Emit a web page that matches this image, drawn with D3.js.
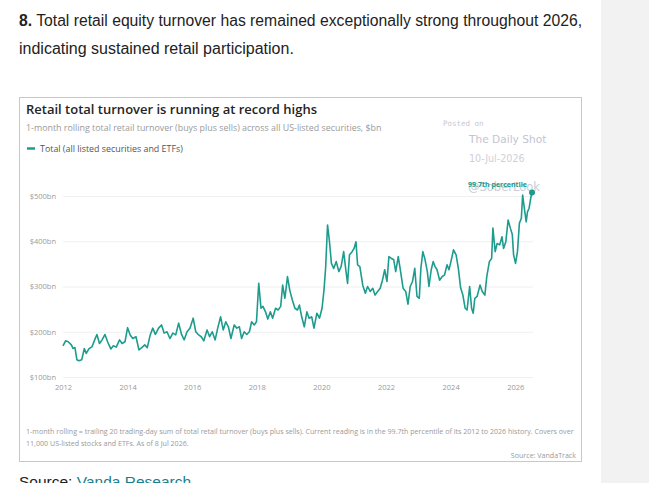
<!DOCTYPE html>
<html lang="en">
<head>
<meta charset="UTF-8">
<title>Retail total turnover</title>
<script src="https://d3js.org/d3.v7.min.js"></script>
<style>
    body { margin: 0; background: #fff; }
    svg { display: block; }
</style>
</head>
<body>
<svg id="chart" width="649" height="483"></svg>
<script>
// dates as decimal years, values in $bn
const dates = [
    2012.00, 2012.08, 2012.16, 2012.26, 2012.31, 2012.37, 2012.43, 2012.49, 2012.58, 2012.66,
    2012.72, 2012.80, 2012.90, 2012.98, 2013.05, 2013.13, 2013.21, 2013.30, 2013.38, 2013.48,
    2013.56, 2013.65, 2013.75, 2013.83, 2013.92, 2014.00, 2014.08, 2014.16, 2014.26, 2014.35,
    2014.44, 2014.53, 2014.61, 2014.70, 2014.78, 2014.86, 2014.96, 2015.05, 2015.13, 2015.22,
    2015.31, 2015.40, 2015.49, 2015.58, 2015.67, 2015.75, 2015.84, 2015.93, 2016.03, 2016.11,
    2016.20, 2016.28, 2016.36, 2016.46, 2016.54, 2016.62, 2016.71, 2016.79, 2016.88, 2016.96,
    2017.04, 2017.12, 2017.20, 2017.30, 2017.38, 2017.46, 2017.53, 2017.61, 2017.69, 2017.77,
    2017.84, 2017.92, 2017.99, 2018.06, 2018.13, 2018.19, 2018.27, 2018.34, 2018.42, 2018.49,
    2018.58, 2018.66, 2018.74, 2018.80, 2018.87, 2018.95, 2019.02, 2019.10, 2019.18, 2019.26,
    2019.32, 2019.39, 2019.47, 2019.55, 2019.62, 2019.70, 2019.77, 2019.86, 2019.94, 2020.02,
    2020.08, 2020.13, 2020.19, 2020.25, 2020.31, 2020.38, 2020.46, 2020.54, 2020.61, 2020.69,
    2020.75, 2020.81, 2020.87, 2020.95, 2021.01, 2021.07, 2021.12, 2021.19, 2021.28, 2021.36,
    2021.43, 2021.51, 2021.59, 2021.66, 2021.74, 2021.82, 2021.89, 2021.96, 2022.03, 2022.09,
    2022.17, 2022.24, 2022.30, 2022.38, 2022.46, 2022.53, 2022.61, 2022.68, 2022.75, 2022.82,
    2022.89, 2022.96, 2023.03, 2023.08, 2023.14, 2023.20, 2023.28, 2023.33, 2023.40, 2023.46,
    2023.52, 2023.58, 2023.66, 2023.74, 2023.81, 2023.89, 2023.95, 2024.01, 2024.09, 2024.17,
    2024.24, 2024.31, 2024.38, 2024.45, 2024.51, 2024.59, 2024.65, 2024.70, 2024.75, 2024.82,
    2024.91, 2024.98, 2025.06, 2025.12, 2025.20, 2025.27, 2025.31, 2025.38, 2025.44, 2025.52,
    2025.59, 2025.64, 2025.71, 2025.78, 2025.85, 2025.91, 2025.95, 2026.01, 2026.07, 2026.13,
    2026.19, 2026.23, 2026.29, 2026.34, 2026.38, 2026.43, 2026.48, 2026.52
];
const turnover = [
    169, 180, 178, 171, 163, 165, 138, 136, 138, 163,
    152, 162, 167, 182, 194, 174, 182, 194, 178, 162,
    169, 166, 182, 174, 178, 209, 193, 185, 189, 160,
    165, 171, 165, 193, 208, 194, 208, 215, 197, 200,
    185, 197, 193, 219, 194, 182, 200, 208, 230, 200,
    193, 189, 180, 204, 189, 200, 182, 208, 233, 204,
    222, 211, 185, 215, 208, 211, 185, 200, 194, 200,
    222, 215, 222, 307, 252, 256, 244, 228, 244, 230,
    252, 248, 256, 303, 274, 322, 292, 270, 252, 248,
    259, 233, 211, 244, 230, 233, 208, 241, 230, 252,
    292, 340, 436, 399, 351, 340, 355, 333, 344, 377,
    340, 307, 370, 377, 384, 399, 348, 344, 303, 285,
    300, 289, 296, 281, 289, 296, 314, 337, 311, 366,
    362, 359, 333, 366, 329, 296, 289, 261, 300, 311,
    340, 278, 274, 340, 377, 362, 333, 300, 337, 355,
    344, 337, 314, 322, 325, 348, 337, 355, 381, 370,
    340, 297, 281, 252, 248, 300, 252, 241, 274, 278,
    303, 289, 281, 322, 355, 362, 429, 377, 395, 392,
    410, 384, 399, 447, 429, 415, 370, 351, 377, 440,
    451, 502, 469, 443, 465, 473, 495, 508
];
const yTicks = [100, 200, 300, 400, 500];
const xTicks = [2012, 2014, 2016, 2018, 2020, 2022, 2024, 2026];

const teal = "#1d9c8d";
const svg = d3.select("#chart");

// grey strip on the right of the page
svg.append("rect").attr("x", 601).attr("y", 0).attr("width", 48).attr("height", 483).attr("fill", "#f2f2f2");

// article text above the chart
const head = svg.append("g").attr("font-family", "Liberation Sans, Arial, sans-serif").attr("font-size", 16).attr("fill", "#222");
const l1 = head.append("text").attr("x", 19).attr("y", 26).attr("textLength", 563).attr("lengthAdjust", "spacingAndGlyphs");
l1.append("tspan").attr("font-weight", "bold").text("8.");
l1.append("tspan").text(" Total retail equity turnover has remained exceptionally strong throughout 2026,");
head.append("text").attr("x", 19).attr("y", 54).text("indicating sustained retail participation.");

// card
svg.append("rect").attr("x", 19.5).attr("y", 97.5).attr("width", 562).attr("height", 364)
    .attr("fill", "#fff").attr("stroke", "#c8c8c8");

const font = "Open Sans, Noto Sans, sans-serif";
svg.append("text").attr("x", 26).attr("y", 114).attr("font-family", font).attr("font-weight", 600)
    .attr("font-size", 13).attr("fill", "#252423").text("Retail total turnover is running at record highs");
svg.append("text").attr("x", 26).attr("y", 131).attr("font-family", font).attr("font-size", 8.9)
    .attr("fill", "#9a9a9a").text("1-month rolling total retail turnover (buys plus sells) across all US-listed securities, $bn");
svg.append("line").attr("x1", 27).attr("x2", 35).attr("y1", 148.5).attr("y2", 148.5).attr("stroke", teal).attr("stroke-width", 2.5);
svg.append("text").attr("x", 40).attr("y", 151.5).attr("font-family", font).attr("font-size", 8.9)
    .attr("fill", "#555").text("Total (all listed securities and ETFs)");

// scales
const x = d3.scaleLinear().domain([2012, 2026.52]).range([63, 532]);
const y = d3.scaleLinear().domain([100, 500]).range([377, 196]);

// y grid + labels
const yAxis = svg.append("g").attr("transform", "translate(63,0)")
    .call(d3.axisLeft(y).tickValues(yTicks).tickSize(-470).tickFormat(d => "$" + d + "bn"));
yAxis.select(".domain").remove();
yAxis.selectAll("line").attr("stroke", "#efefef");
yAxis.selectAll("text").attr("x", -7).attr("fill", "#9a9a9a").attr("font-family", font).attr("font-size", 7.5);

const xAxis = svg.append("g").attr("transform", "translate(0,382)")
    .call(d3.axisBottom(x).tickValues(xTicks).tickSize(0).tickFormat(d3.format("d")));
xAxis.select(".domain").remove();
xAxis.selectAll("text").attr("fill", "#9a9a9a").attr("font-family", font).attr("font-size", 7.5);

// watermark
const wm = svg.append("g").attr("fill", "#c9c9d4");
wm.append("text").attr("x", 443).attr("y", 126).attr("font-family", "DejaVu Sans Mono, monospace").attr("font-size", 7.5).text("Posted on");
wm.append("text").attr("x", 469).attr("y", 143).attr("font-family", "DejaVu Sans, sans-serif").attr("font-size", 10.6).attr("fill", "#c4c4d0").text("The Daily Shot");
wm.append("text").attr("x", 469).attr("y", 162).attr("font-family", "DejaVu Sans, sans-serif").attr("font-size", 9.6).attr("fill", "#cfcfd8").text("10-Jul-2026");
wm.append("text").attr("x", 468).attr("y", 191).attr("font-family", "DejaVu Sans, sans-serif").attr("font-size", 11.5).attr("fill", "#c8cdd8").text("@SoberLook");

// line
const pts = dates.map((d, i) => [d, turnover[i]]);
svg.append("path").datum(pts)
    .attr("fill", "none").attr("stroke", teal).attr("stroke-width", 1.6).attr("stroke-linejoin", "round")
    .attr("d", d3.line().x(d => x(d[0])).y(d => y(d[1])));

const last = pts[pts.length - 1];
svg.append("circle").attr("cx", x(last[0])).attr("cy", y(last[1])).attr("r", 3).attr("fill", teal);
svg.append("text").attr("x", x(last[0]) - 5).attr("y", y(last[1]) - 5).attr("text-anchor", "end")
    .attr("font-family", font).attr("font-weight", 700).attr("font-size", 7).attr("fill", teal).text("99.7th percentile");

// footnotes
const foot = svg.append("g").attr("font-family", font).attr("font-size", 7.1).attr("fill", "#9a9a9a");
foot.append("text").attr("x", 26).attr("y", 434)
    .text("1-month rolling = trailing 20 trading-day sum of total retail turnover (buys plus sells). Current reading is in the 99.7th percentile of its 2012 to 2026 history. Covers over");
foot.append("text").attr("x", 26).attr("y", 446).text("11,000 US-listed stocks and ETFs. As of 8 Jul 2026.");
foot.append("text").attr("x", 576).attr("y", 458).attr("text-anchor", "end").text("Source: VandaTrack");

// source line below the card
const src = svg.append("text").attr("x", 19).attr("y", 487).attr("font-family", "Liberation Sans, Arial, sans-serif").attr("font-size", 15.5).attr("fill", "#222");
src.append("tspan").text("Source: ");
src.append("tspan").attr("fill", "#1a7f8c").attr("text-decoration", "underline").text("Vanda Research");
</script>
</body>
</html>
